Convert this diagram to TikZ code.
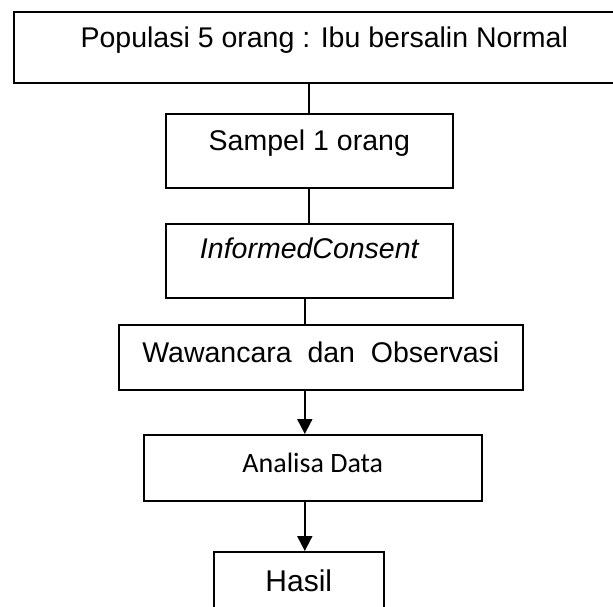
\documentclass[tikz,border=0pt]{standalone}
\usepackage{fontspec}
\setmainfont{Liberation Sans}
\newfontfamily\calibri{Carlito}
\usetikzlibrary{arrows.meta}
\begin{document}
\begin{tikzpicture}[x=1pt, y=-1pt,
  kotak/.style={draw, line width=1.6pt, inner sep=0pt, anchor=north west, font=\fontsize{28.5}{34}\selectfont},
  garis/.style={line width=1.8pt},
  panah/.style={line width=1.8pt, -{Triangle[length=15pt, width=15pt]}}]
\useasboundingbox (0,0) rectangle (613,607);
\node[kotak, minimum width=621pt, text height=35.5pt, text depth=35.5pt] (populasi) at (13,11) {Populasi 5 orang : Ibu bersalin Normal};
\node[kotak, minimum width=287pt, text height=37pt, text depth=37pt] (sampel) at (165,113) {Sampel 1 orang};
\node[kotak, minimum width=287pt, text height=35pt, text depth=39pt] (informed) at (165,223) {\itshape InformedConsent};
\node[kotak, minimum width=404pt, text height=38pt, text depth=27pt] (wawancara) at (118,324) {Wawancara~ dan~ Observasi};
\node[kotak, minimum width=338pt, text height=38pt, text depth=28pt, font=\calibri\fontsize{28}{34}\selectfont] (analisa) at (143,434) {Analisa Data};
\node[kotak, minimum width=170pt, text height=40pt, text depth=40pt, font=\fontsize{30}{36}\selectfont] (hasil) at (213,551) {Hasil};
% garis penghubung
\draw[garis] (populasi.south -| sampel.north) -- (sampel.north);
\draw[garis] (sampel.south) -- (informed.north);
\draw[garis] ([xshift=-4pt]informed.south) -- ([xshift=-4pt]informed.south |- wawancara.north);
\draw[panah] ([xshift=-8pt]analisa.north |- wawancara.south) -- ([xshift=-8pt]analisa.north);
\draw[panah] ([xshift=-8pt]analisa.south) -- ([xshift=-8pt]analisa.south |- hasil.north);
\end{tikzpicture}
\end{document}
